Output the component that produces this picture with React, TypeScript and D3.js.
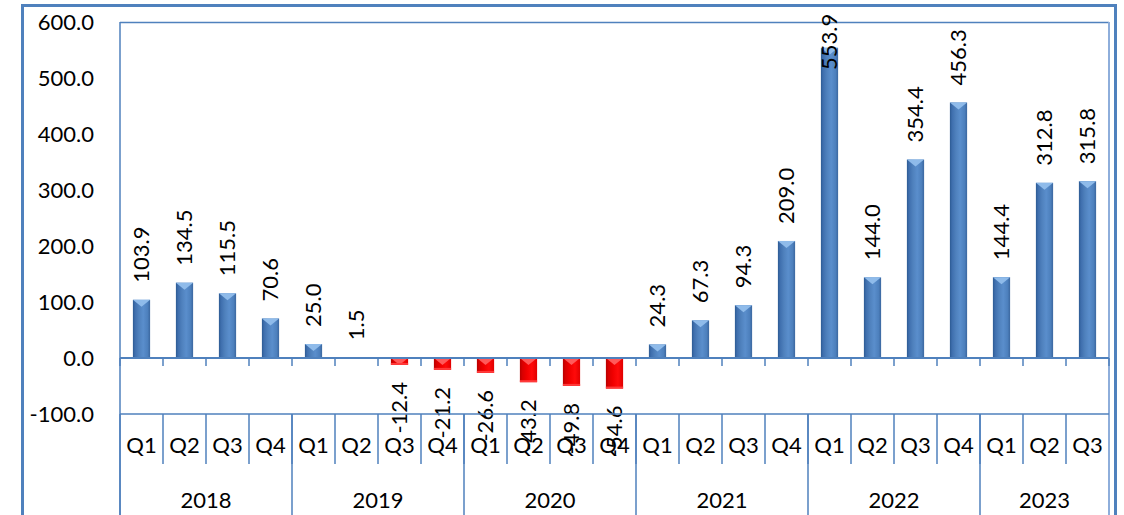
import React from "react";
import * as d3 from "d3";

const years = ["2018", "2019", "2020", "2021", "2022", "2023"];
const quartersPerYear = [4, 4, 4, 4, 4, 3];
const quarterLabels = ["Q1", "Q2", "Q3", "Q4"];
const values = [
  103.9, 134.5, 115.5, 70.6,
  25.0, 1.5, -12.4, -21.2,
  -26.6, -43.2, -49.8, -54.6,
  24.3, 67.3, 94.3, 209.0,
  553.9, 144.0, 354.4, 456.3,
  144.4, 312.8, 315.8,
];
const yTicks = [-100, 0, 100, 200, 300, 400, 500, 600];

const W = 1124;
const H = 515;
const plotL = 120;
const plotR = 1109;
const plotT = 22;
const axisY = 414; // -100 line / top of category table
const qRowBottom = 464;
const FONT = "Lato, 'Open Sans', sans-serif";
const FS = 22;
const BLUE = "#4f81bd";

export default function App() {
  const cats = values.map((_, i) => i);
  const x = d3.scaleBand<number>().domain(cats).range([plotL, plotR]).padding(0);
  const y = d3.scaleLinear().domain([-100, 600]).range([axisY, plotT]);
  const bw = x.bandwidth();
  const barW = bw * 0.4;
  const y0 = y(0);

  // quarter labels per category
  const catQ: string[] = [];
  quartersPerYear.forEach((n) => {
    for (let q = 0; q < n; q++) catQ.push(quarterLabels[q]);
  });
  // year groups
  const groups: { year: string; start: number; end: number }[] = [];
  let idx = 0;
  years.forEach((yr, k) => {
    groups.push({ year: yr, start: idx, end: idx + quartersPerYear[k] });
    idx += quartersPerYear[k];
  });

  const labelLen = 55;

  return (
    <svg
      width={W}
      height={H}
      style={{ position: "absolute", left: 0, top: 0, background: "#fff" }}
      fontFamily={FONT}
    >
      <defs>
        <linearGradient id="blueG" x1="0" x2="1" y1="0" y2="0">
          <stop offset="0%" stopColor="#2c5a92" />
          <stop offset="12%" stopColor="#3e6ead" />
          <stop offset="35%" stopColor="#4f81bd" />
          <stop offset="60%" stopColor="#5a8ecc" />
          <stop offset="85%" stopColor="#4d80bd" />
          <stop offset="100%" stopColor="#3b679f" />
        </linearGradient>
        <linearGradient id="redG" x1="0" x2="1" y1="0" y2="0">
          <stop offset="0%" stopColor="#b80000" />
          <stop offset="15%" stopColor="#d80000" />
          <stop offset="40%" stopColor="#f00000" />
          <stop offset="70%" stopColor="#ff0a0a" />
          <stop offset="100%" stopColor="#e00000" />
        </linearGradient>
      </defs>

      {/* outer chart border */}
      <rect x={22.5} y={5.5} width={1093} height={H + 20} fill="none" stroke={BLUE} strokeWidth={3} />

      {/* plot area border */}
      <line x1={plotL} x2={plotR} y1={plotT + 0.5} y2={plotT + 0.5} stroke={BLUE} strokeWidth={1.5} />
      <line x1={plotL} x2={plotL} y1={plotT} y2={H} stroke={BLUE} strokeWidth={1.5} />
      <line x1={plotR} x2={plotR} y1={plotT} y2={H} stroke="#8eaedb" strokeWidth={2} />

      {/* y tick labels */}
      {yTicks.map((t) => (
        <text
          key={t}
          x={94}
          y={y(t)}
          dy="0.36em"
          textAnchor="end"
          fontSize={FS}
          fill="#000"
        >
          {t.toFixed(1)}
        </text>
      ))}

      {/* bars */}
      {values.map((v, i) => {
        const cx = (x(i) as number) + bw / 2;
        const x0 = cx - barW / 2;
        const top = Math.min(y(v), y0);
        const h = Math.abs(y(v) - y0);
        const neg = v < 0;
        const tri = Math.min(7, h);
        return (
          <g key={i}>
            <rect x={x0} y={top} width={barW} height={h} fill={neg ? "url(#redG)" : "url(#blueG)"} />
            {neg ? (
              <>
                <path
                  d={`M${x0},${y0}L${x0 + barW},${y0}L${cx},${y0 + tri}Z`}
                  fill="#ff5a5a"
                />
                <rect x={x0} y={y(v) - 2} width={barW} height={2} fill="#ff3a3a" />
              </>
            ) : (
              <path
                d={`M${x0},${top}L${x0 + barW},${top}L${cx},${top + tri}Z`}
                fill="#8fbbea"
              />
            )}
          </g>
        );
      })}

      {/* zero line + ticks */}
      <line x1={plotL} x2={plotR} y1={y0} y2={y0} stroke={BLUE} strokeWidth={2} />
      {d3.range(values.length + 1).map((k) => {
        const xx = plotL + k * bw;
        return <line key={k} x1={xx} x2={xx} y1={y0} y2={y0 + 8} stroke={BLUE} strokeWidth={1.5} />;
      })}

      {/* value labels */}
      {values.map((v, i) => {
        const cx = (x(i) as number) + bw / 2;
        const neg = v < 0;
        let ly: number;
        if (neg) {
          ly = y(v) + 17;
        } else {
          ly = Math.max(y(v) - 17, 15 + labelLen);
        }
        return (
          <text
            key={i}
            transform={`translate(${cx},${ly}) rotate(-90)`}
            textAnchor={neg ? "end" : "start"}
            dy="0.36em"
            fontSize={FS}
            fill="#000"
          >
            {v.toFixed(1)}
          </text>
        );
      })}

      {/* category table */}
      <line x1={plotL} x2={plotR} y1={axisY} y2={axisY} stroke={BLUE} strokeWidth={1.5} />
      {d3.range(1, values.length).map((k) => {
        const xx = plotL + k * bw;
        return <line key={k} x1={xx} x2={xx} y1={axisY} y2={qRowBottom} stroke={BLUE} strokeWidth={1.5} />;
      })}
      {groups.map((g) => (
        <line
          key={g.year}
          x1={plotL + g.start * bw}
          x2={plotL + g.start * bw}
          y1={axisY}
          y2={H}
          stroke={BLUE}
          strokeWidth={1.5}
        />
      ))}
      {values.map((_, i) => (
        <text
          key={i}
          x={(x(i) as number) + bw / 2}
          y={453}
          textAnchor="middle"
          fontSize={FS}
          fill="#000"
        >
          {catQ[i]}
        </text>
      ))}
      {groups.map((g) => (
        <text
          key={g.year}
          x={plotL + ((g.start + g.end) / 2) * bw}
          y={508}
          textAnchor="middle"
          fontSize={FS}
          fill="#000"
        >
          {g.year}
        </text>
      ))}
    </svg>
  );
}
